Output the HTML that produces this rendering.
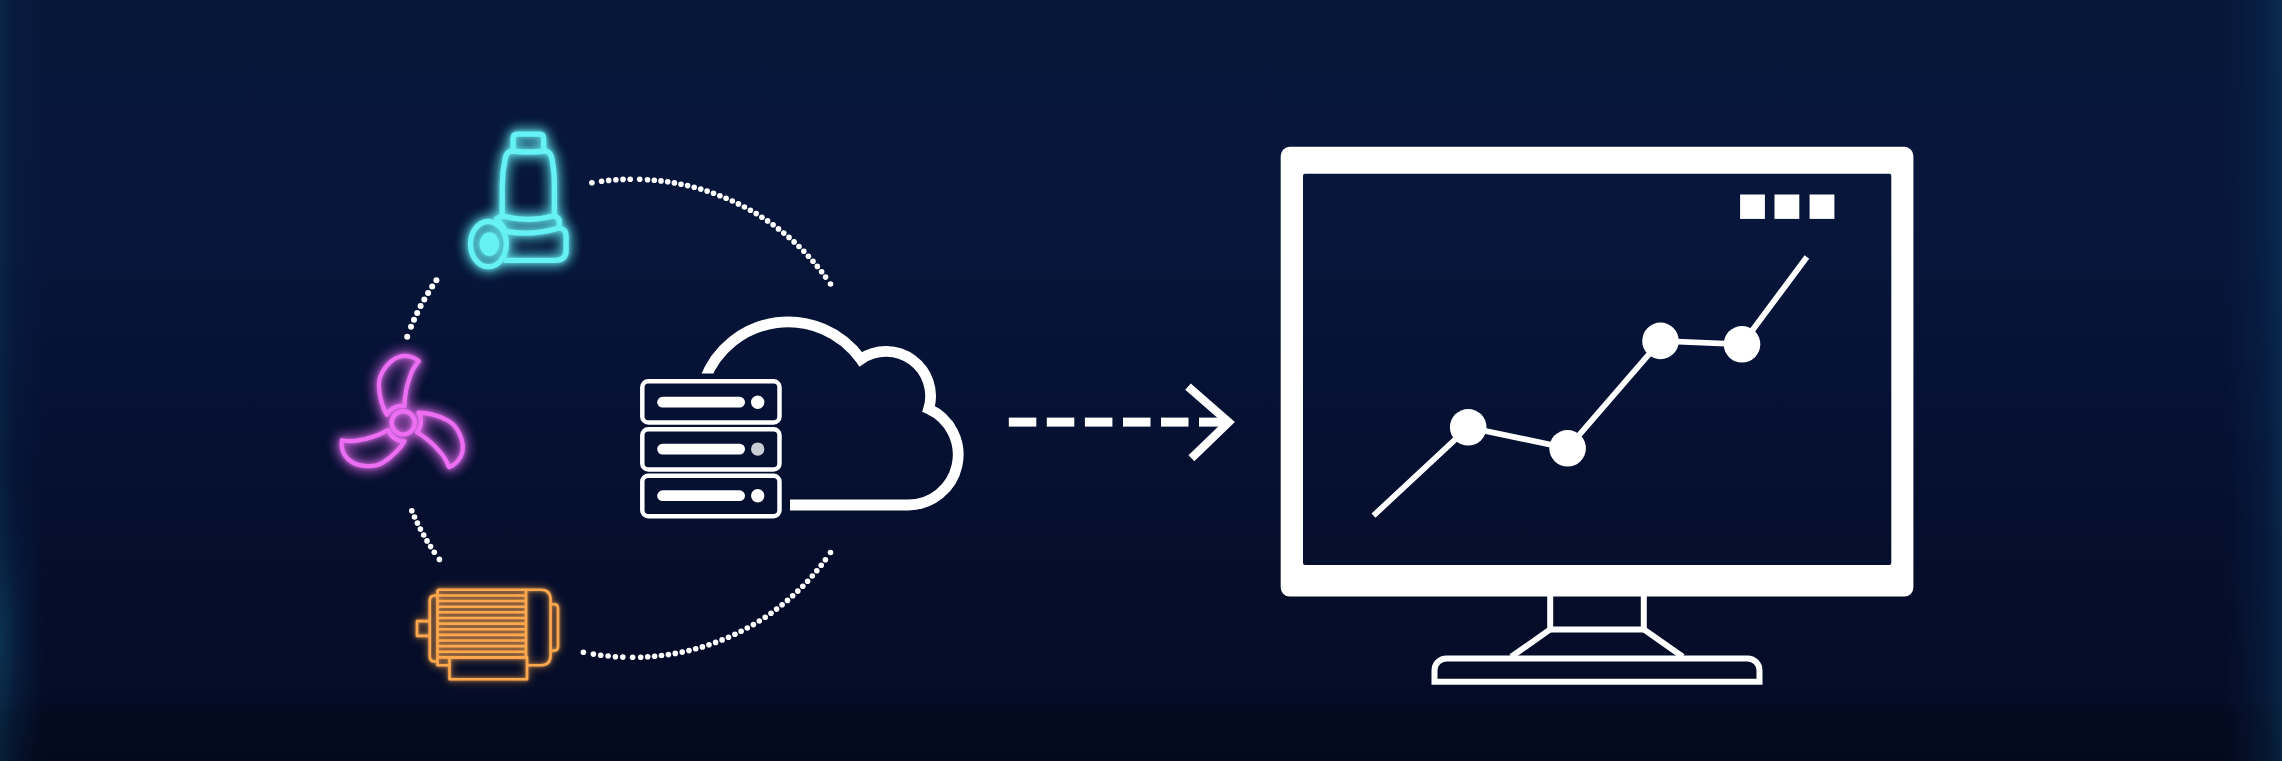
<!DOCTYPE html>
<html lang="en">
<head>
<meta charset="utf-8">
<title>IoT devices to cloud to dashboard</title>
<style>
html,body{margin:0;padding:0;background:#040b24;}
body{width:2282px;height:761px;overflow:hidden;position:relative;
 background:
  radial-gradient(ellipse 46px 170px at 0 640px,rgba(18,90,120,.34) 0,rgba(12,60,100,.14) 55%,rgba(8,40,80,0) 100%),
  linear-gradient(to right,rgba(14,70,100,.30) 0,rgba(10,50,85,.16) 14px,rgba(8,40,80,0) 44px),
  linear-gradient(to left,rgba(14,70,110,.42) 0,rgba(10,55,95,.26) 18px,rgba(8,40,80,0) 56px),
  linear-gradient(to bottom,#07173a 0,#07163a 30%,#061337 45%,#050e2d 70%,#050c27 92%,#040a20 93.5%,#04091e 100%);
}
svg{position:absolute;left:0;top:0;display:block}
</style>
</head>
<body>
<svg width="2282" height="761" viewBox="0 0 2282 761">
<defs>
 <filter id="glowC" x="-40%" y="-40%" width="180%" height="180%">
  <feGaussianBlur in="SourceGraphic" stdDeviation="6.5" result="b1"/>
  <feGaussianBlur in="SourceGraphic" stdDeviation="2.2" result="b2"/>
  <feMerge><feMergeNode in="b1"/><feMergeNode in="b1"/><feMergeNode in="b2"/></feMerge>
 </filter>
 <filter id="glowM" x="-30%" y="-30%" width="160%" height="160%">
  <feGaussianBlur in="SourceGraphic" stdDeviation="4" result="b1"/>
  <feGaussianBlur in="SourceGraphic" stdDeviation="1.4" result="b2"/>
  <feMerge><feMergeNode in="b1"/><feMergeNode in="b2"/></feMerge>
 </filter>
 <clipPath id="cloudClip"><path d="M0 0H2282V761H760V373.6H0Z"/></clipPath>
 <filter id="soft" x="-10%" y="-10%" width="120%" height="120%">
  <feGaussianBlur stdDeviation="0.6"/>
 </filter>
</defs>

<!-- dotted ring -->
<g fill="#fff" filter="url(#soft)"><circle cx="591.9" cy="182.7" r="2.8"/><circle cx="601.6" cy="181.2" r="2.8"/><circle cx="608.7" cy="180.4" r="2.8"/><circle cx="615.9" cy="179.8" r="2.8"/><circle cx="623.0" cy="179.4" r="2.8"/><circle cx="630.2" cy="179.2" r="2.8"/><circle cx="639.7" cy="179.3" r="2.8"/><circle cx="647.5" cy="179.7" r="2.8"/><circle cx="654.3" cy="180.2" r="2.8"/><circle cx="661.0" cy="180.9" r="2.8"/><circle cx="667.7" cy="181.8" r="2.8"/><circle cx="674.4" cy="182.9" r="2.8"/><circle cx="681.0" cy="184.2" r="2.8"/><circle cx="687.6" cy="185.6" r="2.8"/><circle cx="694.2" cy="187.3" r="2.8"/><circle cx="700.7" cy="189.1" r="2.8"/><circle cx="707.1" cy="191.1" r="2.8"/><circle cx="713.5" cy="193.3" r="2.8"/><circle cx="719.9" cy="195.7" r="2.8"/><circle cx="726.1" cy="198.3" r="2.8"/><circle cx="732.3" cy="201.0" r="2.8"/><circle cx="738.4" cy="203.9" r="2.8"/><circle cx="744.4" cy="207.0" r="2.8"/><circle cx="750.4" cy="210.2" r="2.8"/><circle cx="756.2" cy="213.6" r="2.8"/><circle cx="761.9" cy="217.2" r="2.8"/><circle cx="767.6" cy="220.9" r="2.8"/><circle cx="773.1" cy="224.8" r="2.8"/><circle cx="778.5" cy="228.9" r="2.8"/><circle cx="783.8" cy="233.1" r="2.8"/><circle cx="789.0" cy="237.4" r="2.8"/><circle cx="794.1" cy="241.9" r="2.8"/><circle cx="799.0" cy="246.5" r="2.8"/><circle cx="803.8" cy="251.3" r="2.8"/><circle cx="808.4" cy="256.2" r="2.8"/><circle cx="813.0" cy="261.2" r="2.8"/><circle cx="817.3" cy="266.4" r="2.8"/><circle cx="821.6" cy="271.7" r="2.8"/><circle cx="825.6" cy="277.1" r="2.8"/><circle cx="830.5" cy="284.0" r="2.8"/><circle cx="583.4" cy="652.2" r="2.8"/><circle cx="593.4" cy="654.1" r="2.8"/><circle cx="600.7" cy="655.2" r="2.8"/><circle cx="608.1" cy="656.0" r="2.8"/><circle cx="615.4" cy="656.7" r="2.8"/><circle cx="622.8" cy="657.1" r="2.8"/><circle cx="632.6" cy="657.3" r="2.8"/><circle cx="640.7" cy="657.2" r="2.8"/><circle cx="647.7" cy="656.8" r="2.8"/><circle cx="654.6" cy="656.3" r="2.8"/><circle cx="661.5" cy="655.5" r="2.8"/><circle cx="668.4" cy="654.6" r="2.8"/><circle cx="675.3" cy="653.4" r="2.8"/><circle cx="682.2" cy="652.1" r="2.8"/><circle cx="689.0" cy="650.6" r="2.8"/><circle cx="695.7" cy="648.8" r="2.8"/><circle cx="702.4" cy="646.9" r="2.8"/><circle cx="709.0" cy="644.7" r="2.8"/><circle cx="715.6" cy="642.4" r="2.8"/><circle cx="722.1" cy="639.9" r="2.8"/><circle cx="728.5" cy="637.2" r="2.8"/><circle cx="734.9" cy="634.3" r="2.8"/><circle cx="741.1" cy="631.2" r="2.8"/><circle cx="747.3" cy="628.0" r="2.8"/><circle cx="753.4" cy="624.6" r="2.8"/><circle cx="759.3" cy="621.0" r="2.8"/><circle cx="765.2" cy="617.2" r="2.8"/><circle cx="771.0" cy="613.2" r="2.8"/><circle cx="776.6" cy="609.1" r="2.8"/><circle cx="782.1" cy="604.8" r="2.8"/><circle cx="787.5" cy="600.4" r="2.8"/><circle cx="792.7" cy="595.8" r="2.8"/><circle cx="797.8" cy="591.1" r="2.8"/><circle cx="802.8" cy="586.2" r="2.8"/><circle cx="807.6" cy="581.2" r="2.8"/><circle cx="812.3" cy="576.0" r="2.8"/><circle cx="816.8" cy="570.7" r="2.8"/><circle cx="821.2" cy="565.3" r="2.8"/><circle cx="825.4" cy="559.7" r="2.8"/><circle cx="830.5" cy="552.5" r="2.8"/><circle cx="436.4" cy="280.3" r="3.0"/><circle cx="432.2" cy="286.5" r="3.0"/><circle cx="428.1" cy="293.0" r="3.0"/><circle cx="424.3" cy="299.5" r="3.0"/><circle cx="420.6" cy="306.1" r="3.0"/><circle cx="417.2" cy="312.9" r="3.0"/><circle cx="414.0" cy="319.8" r="3.0"/><circle cx="411.0" cy="326.8" r="3.0"/><circle cx="407.2" cy="336.7" r="3.0"/><circle cx="411.8" cy="510.8" r="2.8"/><circle cx="414.5" cy="517.0" r="2.8"/><circle cx="417.4" cy="523.1" r="2.8"/><circle cx="420.4" cy="529.1" r="2.8"/><circle cx="423.7" cy="535.0" r="2.8"/><circle cx="427.0" cy="540.9" r="2.8"/><circle cx="430.6" cy="546.6" r="2.8"/><circle cx="434.3" cy="552.2" r="2.8"/><circle cx="439.4" cy="559.4" r="2.8"/></g>

<!-- pump (cyan) -->
<g id="pump">
 <g fill="none" stroke="#14c2d4" stroke-width="5.8" stroke-linejoin="round" stroke-linecap="round" filter="url(#glowC)" opacity=".9">
  <use href="#pumpShape"/>
 </g>
 <g id="pumpShape" fill="none" stroke="#66f1f5" stroke-width="5.3" stroke-linejoin="round" stroke-linecap="round">
  <path d="M513.1 151 V138.4 Q513.1 134.2 517.3 134.2 H539.4 Q543.6 134.2 543.6 138.4 V151"/>
  <path d="M511 151 Q528 153 546 151 Q550 152 551.5 157 C553.5 166 554.4 175 554.4 186 V215.8 Q528 223 502.2 215.8 V186 C502.2 175 503.5 166 505.5 157 Q507 152 511 151Z"/>
  <path d="M502.2 216 L497 218.4 L506.2 231.5 Q531.5 236 559.3 228 V222 Q559.3 217.3 554.4 216.3"/>
  <path d="M559.3 228 Q566.1 229 566.1 236 V250.4 Q566.1 260.4 555 260.4 H506"/>
  <ellipse cx="488.4" cy="244.1" rx="17.9" ry="22.6"/>
  <ellipse cx="489.4" cy="244.1" rx="7.2" ry="9.3" fill="#66f1f5"/>
 </g>
</g>

<!-- fan (magenta) -->
<g id="fan">
 <g fill="none" stroke="#b92fd0" stroke-width="5" stroke-linejoin="round" stroke-linecap="round" filter="url(#glowC)" opacity=".9">
  <use href="#fanShape"/>
 </g>
 <g id="fanShape" fill="none" stroke="#ec6ef2" stroke-width="4.4" stroke-linejoin="round" stroke-linecap="round" transform="translate(403.2 422.8)">
  <path d="M-17.1,-8.4 C-20.5,-14 -25.2,-27 -25.2,-39.4 C-25.2,-51 -15,-65 -4,-68.4 C3,-70.5 11,-68.5 16.1,-64 C11,-58 8.5,-53 7.2,-48.3 C4,-40 1.6,-30.5 1.3,-17.3 A17.5 17.5 0 0 0 -17.1,-8.4Z" transform="scale(.965)"/>
  <path d="M-17.1,-8.4 C-20.5,-14 -25.2,-27 -25.2,-39.4 C-25.2,-51 -15,-65 -4,-68.4 C3,-70.5 11,-68.5 16.1,-64 C11,-58 8.5,-53 7.2,-48.3 C4,-40 1.6,-30.5 1.3,-17.3 A17.5 17.5 0 0 0 -17.1,-8.4Z" transform="rotate(120) scale(.965)"/>
  <path d="M-17.1,-8.4 C-20.5,-14 -25.2,-27 -25.2,-39.4 C-25.2,-51 -15,-65 -4,-68.4 C3,-70.5 11,-68.5 16.1,-64 C11,-58 8.5,-53 7.2,-48.3 C4,-40 1.6,-30.5 1.3,-17.3 A17.5 17.5 0 0 0 -17.1,-8.4Z" transform="rotate(240) scale(.965)"/>
  <circle r="11.6"/>
 </g>
</g>

<!-- motor (orange) -->
<g id="motor">
 <g fill="none" stroke="#e47614" stroke-width="3" stroke-linejoin="round" filter="url(#glowM)" opacity=".85">
  <use href="#motorShape"/>
 </g>
 <g id="motorShape" fill="none" stroke="#fda74e" stroke-width="2.6" stroke-linejoin="round">
  <path d="M437.5 589.8 H540.6 Q550.6 589.8 550.6 599.8 V655.2 Q550.6 665.2 540.6 665.2 H527"/>
  <path d="M449.5 665.2 H437.5 V589.8"/>
  <path d="M526 589.8 V657.5"/>
  <path d="M437.5 595.43H526"/><path d="M437.5 601.06H526"/><path d="M437.5 606.69H526"/><path d="M437.5 612.32H526"/><path d="M437.5 617.95H526"/><path d="M437.5 623.58H526"/><path d="M437.5 629.21H526"/><path d="M437.5 634.84H526"/><path d="M437.5 640.47H526"/><path d="M437.5 646.10H526"/><path d="M437.5 651.73H526"/><path d="M437.5 657.36H526"/>
  <path d="M550.6 604.3 H554 Q558 604.3 558 608.3 V646.6 Q558 650.6 554 650.6 H550.6"/>
  <path d="M437.5 595.5 H434.8 Q429.8 595.5 429.8 600.5 V656.5 Q429.8 661.5 434.8 661.5 H437.5"/>
  <path d="M429.8 621.1 H417 V635.9 H429.8"/>
  <rect x="449.5" y="657.4" width="77.5" height="21.8"/>
 </g>
</g>

<!-- server + cloud (white) -->
<g fill="none" stroke="#fff">
 <path stroke-width="10.8" clip-path="url(#cloudClip)" d="M704.60 380.00 A89.20 89.20 0 0 1 860.77 359.23 A44.60 44.60 0 0 1 928.69 408.90 A50.30 50.30 0 0 1 907.90 505.00 H790"/>
 <g stroke-width="4.5">
  <rect x="642.3" y="381.3" width="137.2" height="41.2" rx="6"/>
  <rect x="642.3" y="429.3" width="137.2" height="40.2" rx="6"/>
  <rect x="642.3" y="475.8" width="137.2" height="40.4" rx="6"/>
 </g>
 <g stroke-width="10.8" stroke-linecap="round">
  <path d="M662.6 402.2H739.6"/><path d="M662.6 449.1H739.6"/><path d="M662.6 495.7H739.6"/>
 </g>
</g>
<circle cx="757.7" cy="402.2" r="6.7" fill="#fff"/>
<circle cx="757.7" cy="449.1" r="6.7" fill="#c9cdd6"/>
<circle cx="757.7" cy="495.7" r="6.7" fill="#fff"/>

<!-- arrow -->
<g fill="#fff"><rect x="1008.8" y="417.6" width="27.5" height="9"/><rect x="1046.8" y="417.6" width="27.5" height="9"/><rect x="1084.9" y="417.6" width="27.5" height="9"/><rect x="1123.0" y="417.6" width="27.5" height="9"/><rect x="1161.0" y="417.6" width="27.5" height="9"/><rect x="1199.0" y="417.6" width="27.5" height="9"/></g>
<path d="M1188 386.6 L1228.7 422.2 L1191.4 458.3" fill="none" stroke="#fff" stroke-width="8.4" stroke-miterlimit="10"/>

<!-- monitor -->
<path fill="#fff" fill-rule="evenodd" d="M1289.7 146.8 H1904.4 A9 9 0 0 1 1913.4 155.8 V587.6 A9 9 0 0 1 1904.4 596.6 H1289.7 A9 9 0 0 1 1280.7 587.6 V155.8 A9 9 0 0 1 1289.7 146.8 Z M1305 173.8 H1889.3 Q1891.3 173.8 1891.3 175.8 V563 Q1891.3 565 1889.3 565 H1305 Q1303 565 1303 563 V175.8 Q1303 173.8 1305 173.8 Z"/>
<g fill="none" stroke="#fff" stroke-width="6" stroke-linejoin="miter">
 <path d="M1550.2 595 V629.4 H1643.8 V595"/>
 <path d="M1550.2 629.4 L1511.2 656.8 M1643.8 629.4 L1682.8 656.8"/>
 <path d="M1434.5 681.8 V670.4 A12 12 0 0 1 1446.5 658.4 H1747.5 A12 12 0 0 1 1759.5 670.4 V681.8 Z"/>
</g>
<!-- chart -->
<polyline points="1373.5,515.6 1468.2,427.3 1567.6,448.3 1660.5,340.9 1742,344.3 1806.9,257" fill="none" stroke="#fff" stroke-width="5.8"/>
<g fill="#fff">
 <circle cx="1468.2" cy="427.3" r="18.3"/><circle cx="1567.6" cy="448.3" r="18.3"/>
 <circle cx="1660.5" cy="340.9" r="18.3"/><circle cx="1742" cy="344.3" r="18.3"/>
 <rect x="1740.1" y="194.5" width="24.8" height="24.4"/>
 <rect x="1774.5" y="194.5" width="24.8" height="24.4"/>
 <rect x="1809.6" y="194.5" width="24.8" height="24.4"/>
</g>
</svg>
</body>
</html>
